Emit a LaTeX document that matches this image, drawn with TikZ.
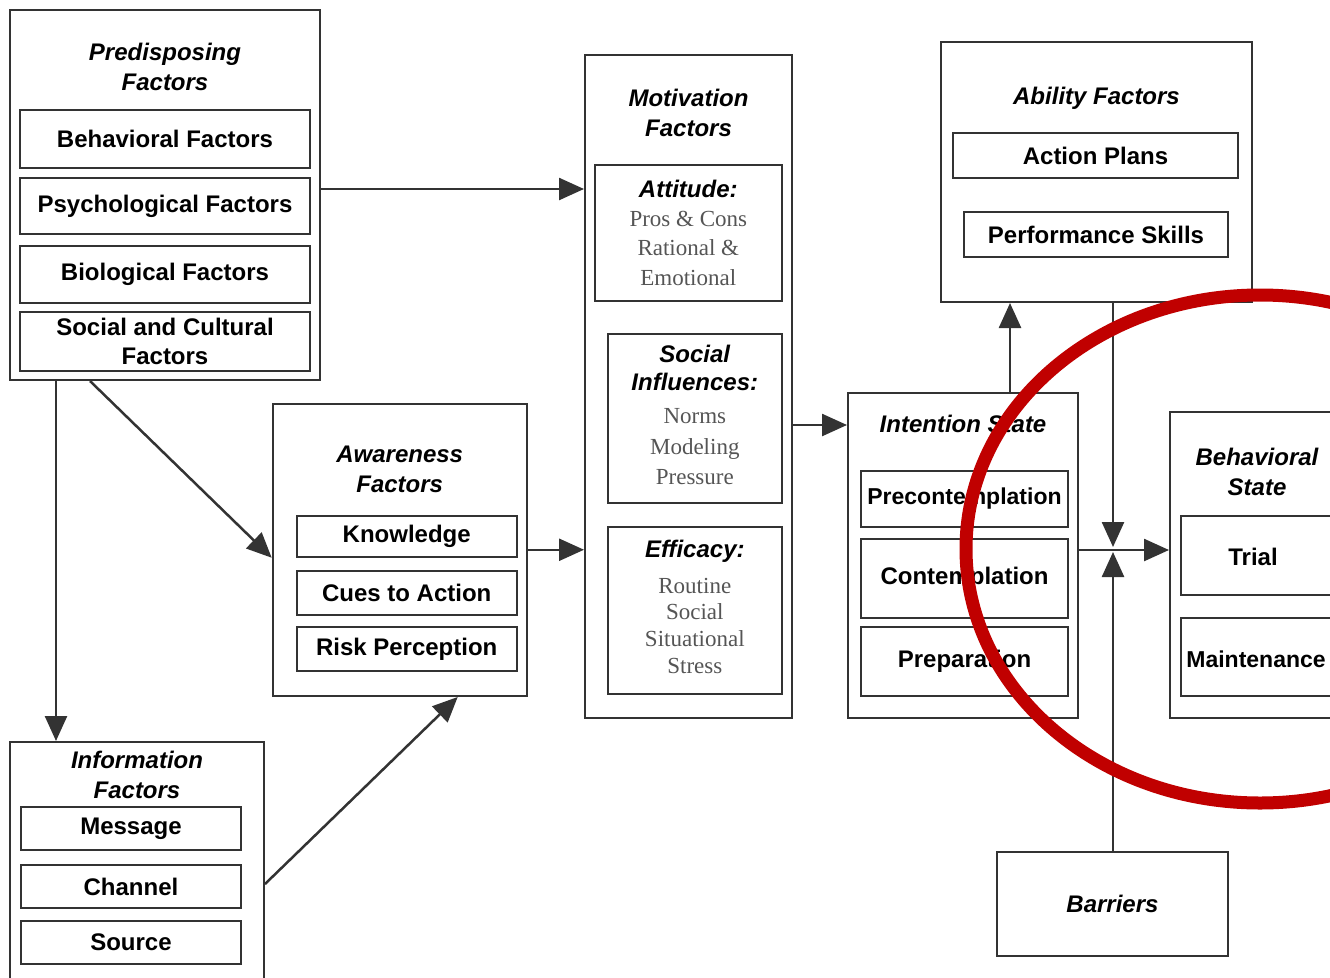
\documentclass[tikz,border=0pt]{standalone}
\usepackage{fontspec}
\newfontfamily\arialf{Liberation Sans}
\newfontfamily\timesf{Liberation Serif}
\usetikzlibrary{arrows.meta,calc}
\definecolor{ln}{HTML}{333333}
\definecolor{ringred}{HTML}{C00000}
\definecolor{serifgray}{HTML}{555555}
\begin{document}
\begin{tikzpicture}[x=1pt,y=-1pt,
  box/.style={draw=ln, line width=2pt, inner sep=0pt},
  ttl/.style={font=\arialf\bfseries\itshape\fontsize{24}{30}\selectfont, align=center, inner sep=0pt},
  itm/.style={font=\arialf\bfseries\fontsize{24}{29}\selectfont, align=center, inner sep=0pt},
  srf/.style={font=\timesf\fontsize{24}{30}\selectfont, text=serifgray, align=center, inner sep=0pt},
  arr/.style={draw=ln, line width=2.5pt, -{Triangle[length=25pt,width=22pt]}},
]
\useasboundingbox (0,0) rectangle (1330,977);
\clip (0,0) rectangle (1330,977);
\fill[white] (0,0) rectangle (1330,977);

% Predisposing
\node[box, minimum width=310pt, minimum height=370pt] (pre) at (165,195) {};
\node[ttl] (preT) at (165,67) {Predisposing\\Factors};
\node[box,itm, minimum width=290pt, minimum height=58pt] (beh) at (165,139) {Behavioral Factors};
\node[box,itm, minimum width=290pt, minimum height=56pt] (psy) at (165,206) {Psychological Factors};
\node[box,itm, minimum width=290pt, minimum height=57pt] (bio) at (165,274.5) {Biological Factors};
\node[box,itm, minimum width=290pt, minimum height=59pt] (soc) at (165,341.5) {Social and Cultural\\Factors};

% Information
\node[box, minimum width=254pt, minimum height=258pt] (inf) at (137,871) {};
\node[ttl] (infT) at (137,775) {Information\\Factors};
\node[box,itm, minimum width=220pt, minimum height=43pt] (msg) at (131,828.5) {Message};
\node[box,itm, minimum width=220pt, minimum height=43pt] (chn) at (131,886.5) {Channel};
\node[box,itm, minimum width=220pt, minimum height=43pt] (src) at (131,942.5) {Source};

% Awareness
\node[box, minimum width=254pt, minimum height=292.5pt] (awa) at (399.7,549.75) {};
\node[ttl] (awaT) at (399.7,469) {Awareness\\Factors};
\node[box,itm, minimum width=220pt, minimum height=41.4pt] (kno) at (406.7,536.7) {Knowledge};
\node[box,itm, minimum width=220pt, minimum height=44pt] (cue) at (406.7,593) {Cues to Action};
\node[box,itm, minimum width=220pt, minimum height=44pt] (rsk) at (406.7,649) {Risk Perception};

% Motivation
\node[box, minimum width=207pt, minimum height=663pt] (mot) at (688.5,386.5) {};
\node[ttl] (motT) at (688.5,113) {Motivation\\Factors};
\node[box, minimum width=186.7pt, minimum height=136.5pt] (att) at (688.3,233.2) {};
\node[ttl] (attT) at (688.3,189) {Attitude:};
\node[srf, font=\timesf\fontsize{23}{29.5}\selectfont] (attB) at (688.3,248) {Pros \& Cons\\Rational \&\\Emotional};
\node[box, minimum width=173.7pt, minimum height=169pt] (sin) at (694.8,418.5) {};
\node[ttl, font=\arialf\bfseries\itshape\fontsize{24}{28}\selectfont] (sinT) at (694.8,367.6) {Social\\Influences:};
\node[srf, font=\timesf\fontsize{23}{30.5}\selectfont] (sinB) at (694.8,446.6) {Norms\\Modeling\\Pressure};
\node[box, minimum width=173.7pt, minimum height=167pt] (eff) at (694.8,610.5) {};
\node[ttl] (effT) at (694.8,551) {Efficacy:};
\node[srf, font=\timesf\fontsize{23}{26.7}\selectfont] (effB) at (694.8,625.7) {Routine\\Social\\Situational\\Stress};

% Intention
\node[box, minimum width=230pt, minimum height=325pt] (int) at (963,555.5) {};
\node[ttl] (intT) at (963,424) {Intention State};
\node[box,itm, font=\arialf\bfseries\fontsize{23}{29}\selectfont, minimum width=207pt, minimum height=56pt] (pcn) at (964.5,499) {Precontemplation};
\node[box,itm, minimum width=207pt, minimum height=79pt] (con) at (964.5,578.5) {Contemplation};
\node[box,itm, minimum width=207pt, minimum height=69pt] (prp) at (964.5,661.5) {Preparation};

% Ability
\node[box, minimum width=311pt, minimum height=260pt] (abl) at (1096.5,172) {};
\node[ttl] (ablT) at (1096.5,98) {Ability Factors};
\node[box,itm, minimum width=285pt, minimum height=45pt] (apl) at (1095.5,155.5) {Action Plans};
\node[box,itm, minimum width=264pt, minimum height=45pt] (psk) at (1096,234.5) {Performance Skills};

% Behavioral State
\node[box, minimum width=175pt, minimum height=306pt] (bst) at (1257.5,565) {};
\node[ttl] (bstT) at (1257,471.5) {Behavioral\\State};
\node[box, minimum width=153pt, minimum height=79pt] (tri) at (1257.5,555.5) {};
\node[itm] (triT) at (1253,557) {Trial};
\node[box, minimum width=153pt, minimum height=78pt] (mnt) at (1257.5,657) {};
\node[itm, font=\arialf\bfseries\fontsize{23}{29}\selectfont] (mntT) at (1256,659) {Maintenance};

% Barriers
\node[box,ttl, minimum width=231pt, minimum height=104pt] (bar) at (1112.5,904) {Barriers};

% connectors
\coordinate (jn) at (1113,550);
\coordinate (p1) at ([yshift=6pt]pre.east);
\coordinate (p2) at ([yshift=-38.5pt]mot.east);
\coordinate (p3) at ([xshift=47pt]int.north);
\coordinate (p4) at ([xshift=-109pt]pre.south);
\draw[arr] (p1) -- (p1 -| mot.west);
\draw[arr] (awa.east) -- (awa.east -| mot.west);
\draw[arr] (p2) -- (p2 -| int.west);
\draw[arr] (p3) -- (p3 |- abl.south);
\draw[arr] (abl.south -| jn) -- ([yshift=3pt]jn);
\draw[arr] (bar.north -| jn) -- ([yshift=-2pt]jn);
\draw[arr] (int.east |- jn) -- (bst.west |- jn);
\draw[arr] (p4) -- (p4 |- inf.north);
\draw[arr] ([xshift=-75pt]pre.south) -- ([yshift=-8pt]awa.west);
\draw[arr] ([yshift=-13pt]inf.east) -- ([xshift=58pt]awa.south);

% red ring
\draw[ringred, line width=13pt] (1260,549) ellipse [x radius=294pt, y radius=254pt];
\end{tikzpicture}
\end{document}
